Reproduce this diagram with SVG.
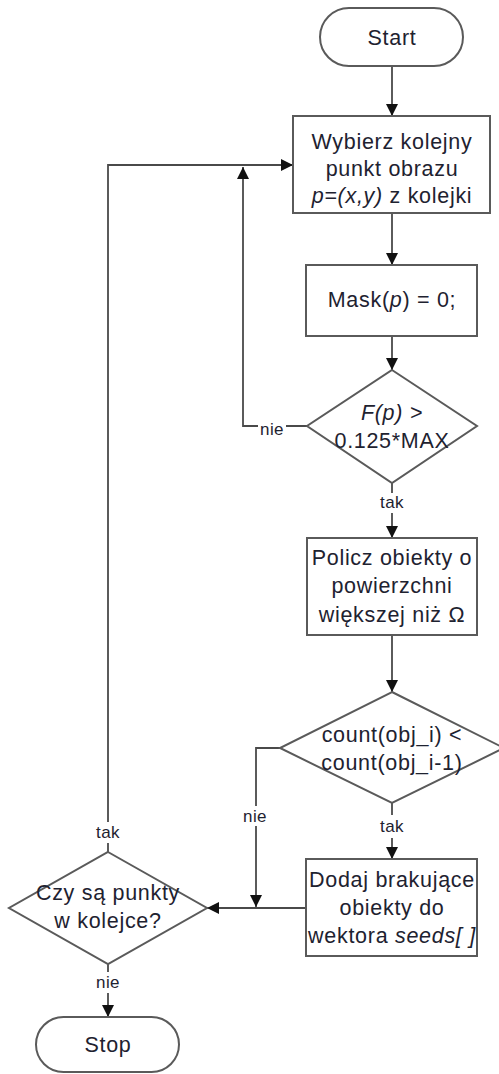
<svg xmlns="http://www.w3.org/2000/svg" width="499" height="1074" viewBox="0 0 499 1074">
<defs>
<marker id="arr" markerUnits="userSpaceOnUse" markerWidth="13" markerHeight="13" refX="12" refY="6" orient="auto">
<path d="M0,0 L12,6 L0,12 z" fill="#111"/>
</marker>
<style>
.shape{fill:#fff;stroke:#5a5a5a;stroke-width:2}
.con{fill:none;stroke:#4a4a4a;stroke-width:1.8}
.t{font-family:"Liberation Sans",Arial,sans-serif;font-size:21.5px;letter-spacing:0.7px;fill:#1e2230;text-anchor:middle}
.lbl{font-family:"Liberation Sans",Arial,sans-serif;font-size:17px;letter-spacing:0.4px;fill:#1e2230;text-anchor:middle}
.i{font-style:italic}
.bg{fill:#fff}
</style>
</defs>
<rect width="499" height="1074" fill="#fff"/>

<g id="connectors">
<path class="con" d="M392,66 V116" marker-end="url(#arr)"/>
<path class="con" d="M392,213 V265" marker-end="url(#arr)"/>
<path class="con" d="M392,336 V370" marker-end="url(#arr)"/>
<path class="con" d="M307,426 H243 V167" marker-end="url(#arr)"/>
<path class="con" d="M392,483 V493"/>
<path class="con" d="M392,513 V538" marker-end="url(#arr)"/>
<path class="con" d="M392,635 V692" marker-end="url(#arr)"/>
<path class="con" d="M280,748 H256 V907" marker-end="url(#arr)"/>
<path class="con" d="M392,803 V815"/>
<path class="con" d="M392,838 V859" marker-end="url(#arr)"/>
<path class="con" d="M306,908 H207" marker-end="url(#arr)"/>
<path class="con" d="M108,852 V843"/>
<path class="con" d="M108,822 V165 H293" marker-end="url(#arr)"/>
<path class="con" d="M108,964 V972"/>
<path class="con" d="M108,993 V1017" marker-end="url(#arr)"/>
<rect class="bg" x="258" y="420" width="28" height="16"/>
<text class="lbl" x="272" y="435">nie</text>
<text class="lbl" x="392" y="508">tak</text>
<rect class="bg" x="241" y="806" width="28" height="20"/>
<text class="lbl" x="255" y="822">nie</text>
<text class="lbl" x="392" y="832">tak</text>
<text class="lbl" x="108" y="838">tak</text>
<text class="lbl" x="108" y="988">nie</text>
</g>

<g id="start">
<rect class="shape" x="320" y="8" width="143" height="58" rx="29"/>
<text class="t" x="392" y="45">Start</text>
</g>

<g id="wybierz">
<rect class="shape" x="293" y="116" width="197" height="97"/>
<text class="t" x="392" y="149">Wybierz kolejny</text>
<text class="t" x="392" y="176">punkt obrazu</text>
<text class="t" x="392" y="203"><tspan class="i">p=(x,y)</tspan> z kolejki</text>
</g>

<g id="mask">
<rect class="shape" x="306" y="265" width="171" height="71"/>
<text class="t" x="392" y="307">Mask(<tspan class="i">p</tspan>) = 0;</text>
</g>

<g id="decision1">
<polygon class="shape" points="392,370 477,426 392,483 307,426"/>
<text class="t" x="392" y="420"><tspan class="i">F(p) &gt;</tspan></text>
<text class="t" x="392" y="448">0.125*MAX</text>
</g>

<g id="policz">
<rect class="shape" x="307" y="538" width="170" height="97"/>
<text class="t" x="392" y="565">Policz obiekty o</text>
<text class="t" x="392" y="593">powierzchni</text>
<text class="t" x="392" y="622">większej niż Ω</text>
</g>

<g id="decision2">
<polygon class="shape" points="392,692 504,748 392,803 280,748"/>
<text class="t" x="392" y="742">count(obj_i) &lt;</text>
<text class="t" x="392" y="770">count(obj_i-1)</text>
</g>

<g id="dodaj">
<rect class="shape" x="306" y="859" width="171" height="97"/>
<text class="t" x="392" y="887">Dodaj brakujące</text>
<text class="t" x="392" y="915">obiekty do</text>
<text class="t" x="392" y="943">wektora <tspan class="i">seeds[ ]</tspan></text>
</g>

<g id="decision3">
<polygon class="shape" points="108,852 207,908 108,964 9,908"/>
<text class="t" x="108" y="900">Czy są punkty</text>
<text class="t" x="108" y="928">w kolejce?</text>
</g>

<g id="stop">
<rect class="shape" x="36" y="1017" width="143" height="55" rx="27.5"/>
<text class="t" x="108" y="1052">Stop</text>
</g>
</svg>
